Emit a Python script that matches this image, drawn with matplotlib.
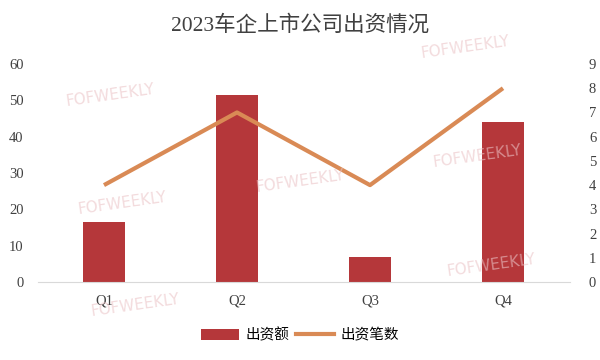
import matplotlib
matplotlib.use("Agg")
import matplotlib.pyplot as plt
from matplotlib.patches import Patch
from matplotlib.lines import Line2D

plt.rcParams['font.family'] = ['Liberation Serif', 'Noto Sans CJK SC', 'DejaVu Sans']

categories = ["Q1", "Q2", "Q3", "Q4"]
amount = [16.5, 51.5, 7, 44]
counts = [4, 7, 4, 8]
left_ticks = [0, 10, 20, 30, 40, 50, 60]
right_ticks = list(range(10))

bar_color = "#B5373A"
line_color = "#D98A55"

fig = plt.figure(figsize=(6, 3.6), dpi=100)
ax = fig.add_axes([37.5/600, 1-282/360, 532/600, 218/360])
x = list(range(len(categories)))
ax.bar(x, amount, width=0.31, color=bar_color, zorder=2)
ax.set_xlim(-0.5, 3.5)
ax.set_ylim(0, 60)
ax.set_yticks(left_ticks)
ax.set_xticks(x)
ax.set_xticklabels(categories)
for s in ["top", "right", "left"]:
    ax.spines[s].set_visible(False)
ax.spines["bottom"].set_color("#D9D9D9")
ax.tick_params(axis="both", length=0, labelsize=10.5, colors="#404040")
ax.tick_params(axis="y", pad=10)
ax.tick_params(axis="x", pad=9)

ax2 = ax.twinx()
ax2.plot(x, counts, color=line_color, linewidth=3, zorder=3, solid_capstyle="butt")
ax2.set_ylim(0, 9)
ax2.set_yticks(right_ticks)
for s in ["top", "right", "left", "bottom"]:
    ax2.spines[s].set_visible(False)
ax2.tick_params(axis="y", length=0, labelsize=10.5, colors="#404040", pad=14)

fig.text(0.5, 1-25/360, "2023车企上市公司出资情况", ha="center", va="center",
         fontsize=15.5, color="#404040", family=['Liberation Serif', 'Noto Sans CJK SC'])

handles = [Patch(facecolor=bar_color, label="出资额"),
           Line2D([0], [0], color=line_color, lw=3, label="出资笔数")]
fig.legend(handles=handles, loc="center", bbox_to_anchor=(0.5, 1-335/360), ncol=2,
           frameon=False, handlelength=2.6, handleheight=0.8,
           columnspacing=0.5, handletextpad=0.4,
           prop={'family': ['Noto Sans CJK SC'], 'size': 10.5})

wm = [(110, 95), (465, 47), (300, 181), (122, 203), (477, 156), (135, 305), (491, 265)]
for (px, py) in wm:
    fig.text(px/600, 1-py/360, "FOFWEEKLY", ha="center", va="center", rotation=8,
             fontsize=11, color="#EBC3C6", alpha=0.6, family="DejaVu Sans", zorder=10)

fig.savefig("out.png", dpi=100)
